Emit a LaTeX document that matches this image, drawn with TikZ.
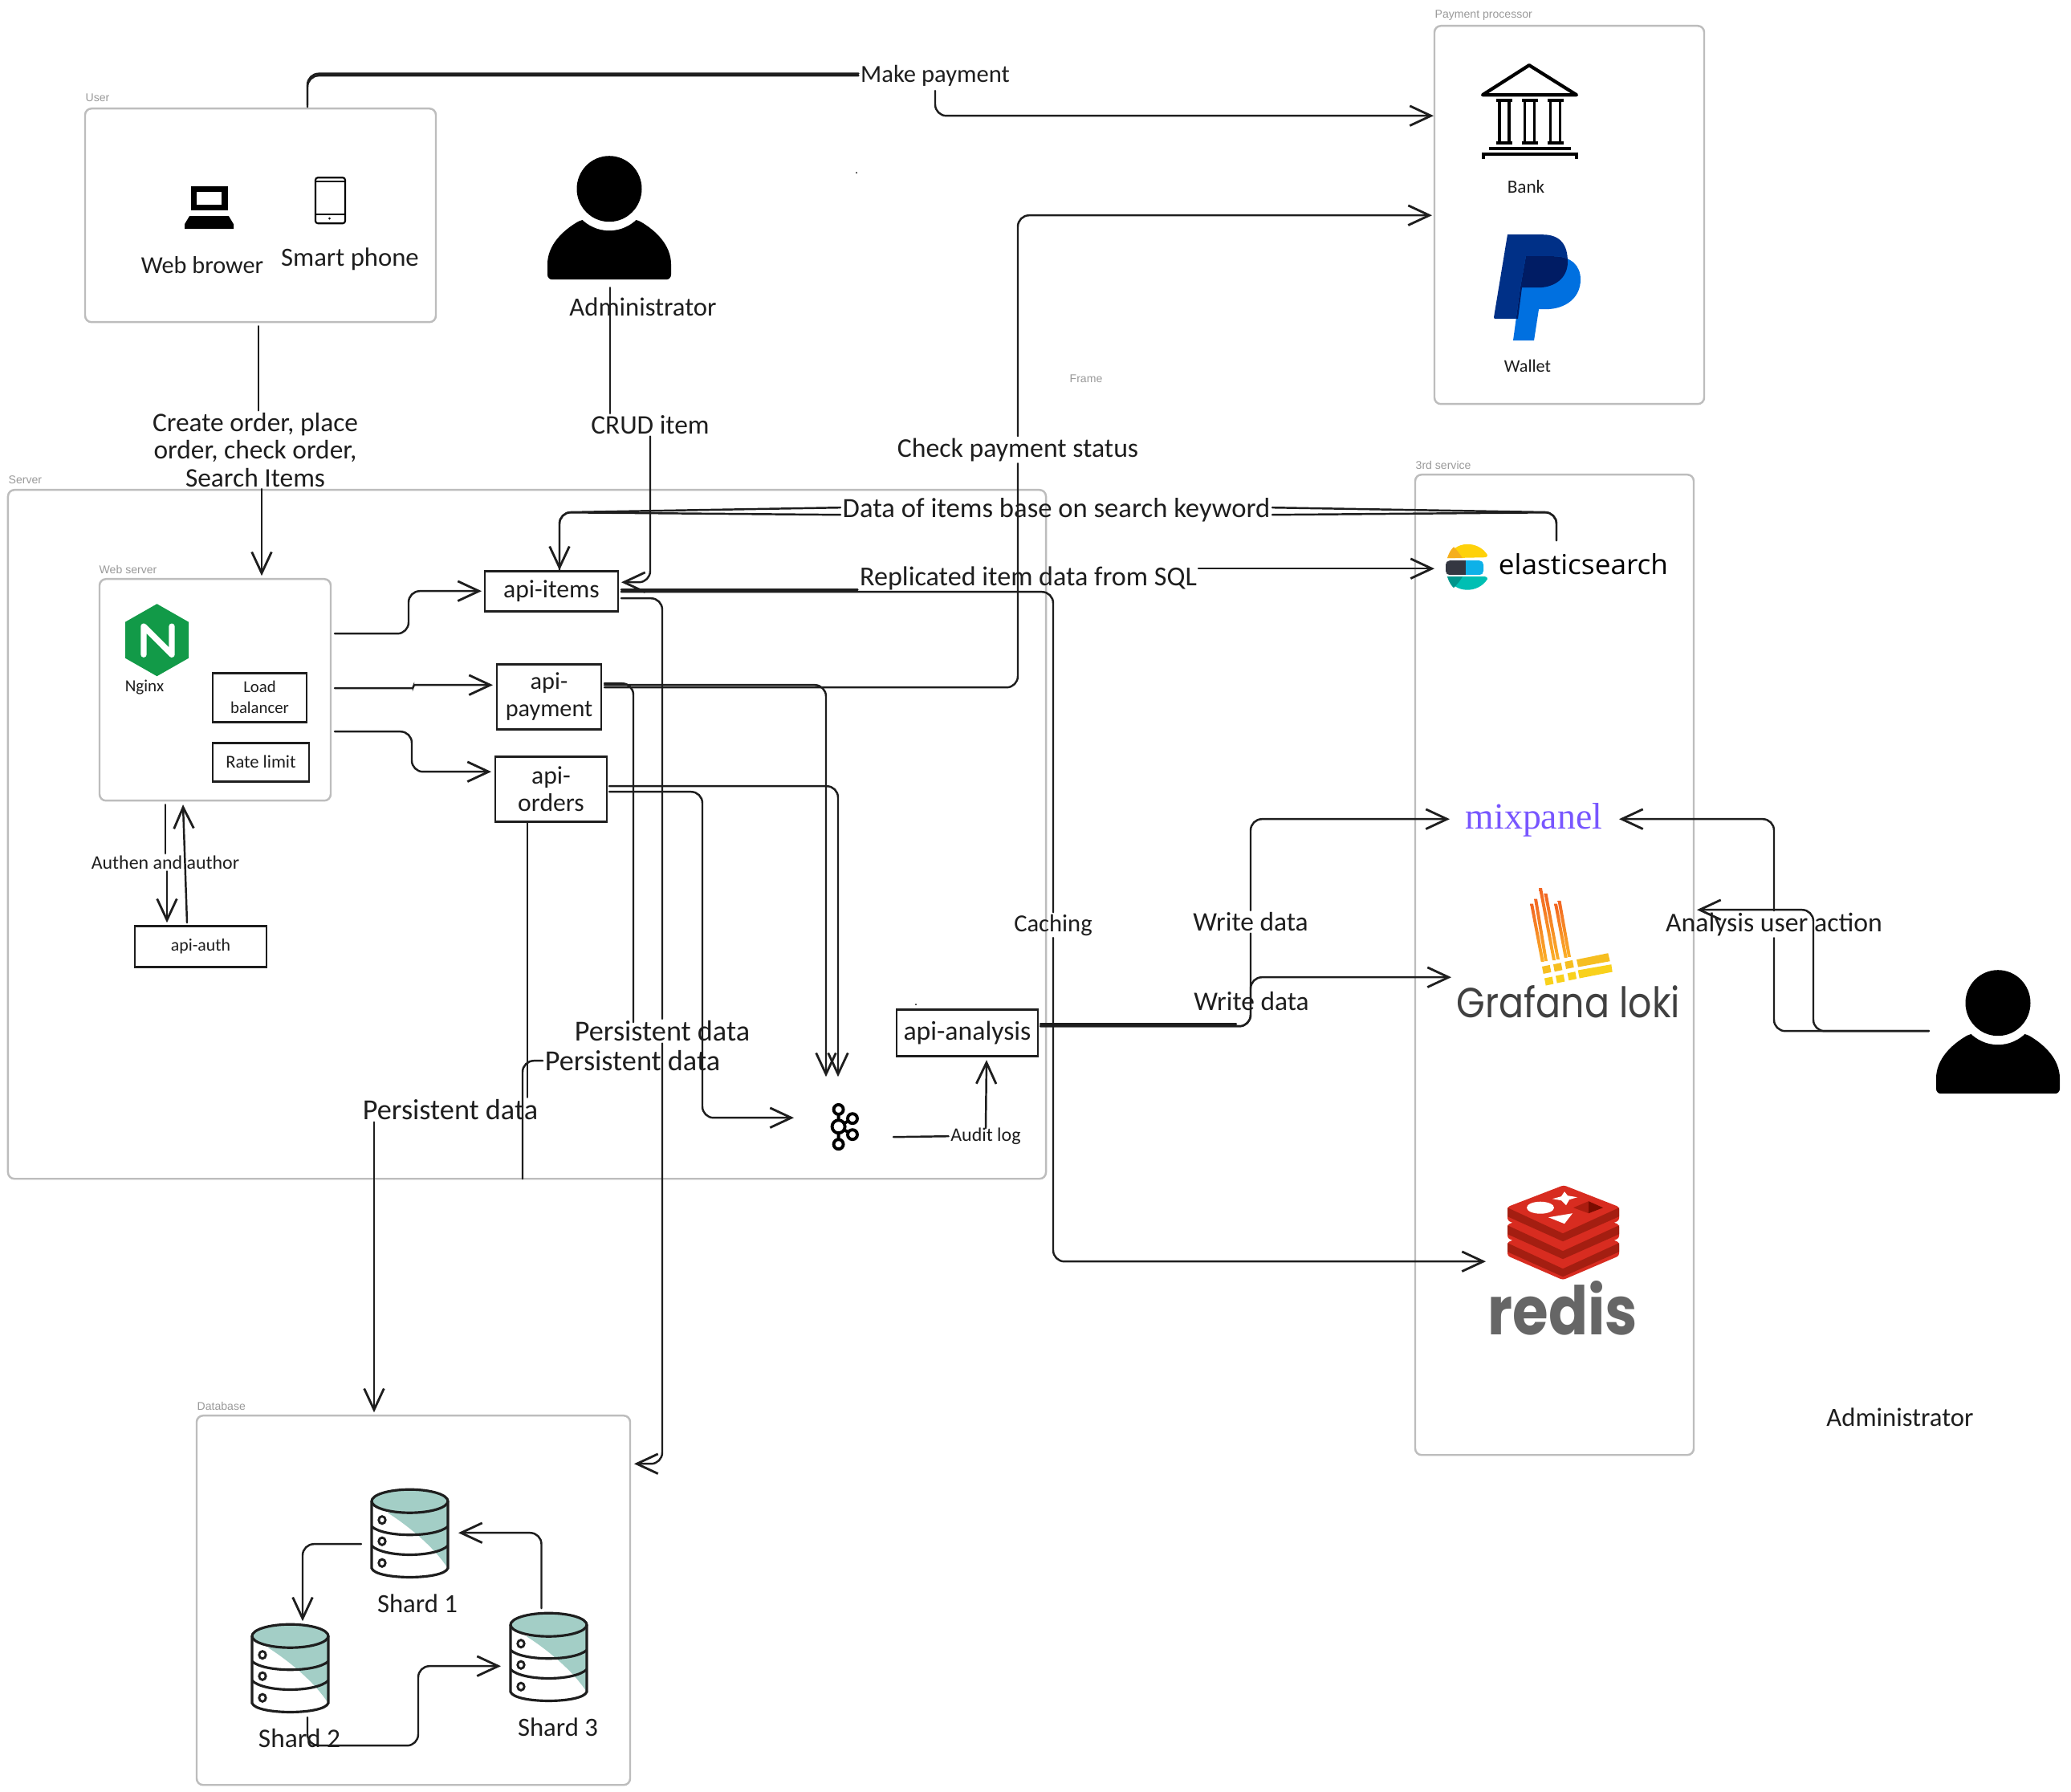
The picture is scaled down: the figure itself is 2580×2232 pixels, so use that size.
\documentclass[tikz,border=0pt]{standalone}
\usepackage{fontspec}
\usepackage{graphicx}
\setmainfont{Carlito}
\newfontfamily\libsans{Liberation Sans}
\newfontfamily\libserif{Liberation Serif}
\newfontfamily\popp{Poppins}
\newfontfamily\opens{Open Sans}
\usetikzlibrary{arrows.meta,calc}
\definecolor{ink}{HTML}{1E1E1E}
\definecolor{framegray}{HTML}{BDBDBD}
\definecolor{labelgray}{HTML}{9A9A9A}
\definecolor{shardteal}{HTML}{A3CEC6}
\definecolor{ppdark}{RGB}{0,48,135}
\definecolor{pplight}{RGB}{0,112,224}
\definecolor{ppover}{RGB}{0,28,100}
\definecolor{nginxgreen}{RGB}{18,154,72}
\definecolor{esyellow}{RGB}{254,209,10}
\definecolor{esorange}{RGB}{245,175,30}
\definecolor{esdark}{RGB}{52,55,65}
\definecolor{esblue}{RGB}{13,177,232}
\definecolor{esteal}{RGB}{0,191,179}
\definecolor{esteald}{RGB}{0,150,140}
\definecolor{mixpurple}{RGB}{120,86,255}
\definecolor{lokitop}{RGB}{242,101,34}
\definecolor{lokibot}{RGB}{251,176,40}
\definecolor{lokiy}{RGB}{246,190,32}
\definecolor{lokiz}{RGB}{249,209,28}
\definecolor{lokitext}{RGB}{64,64,64}
\definecolor{redisdark}{RGB}{164,30,17}
\definecolor{redislight}{RGB}{216,44,32}
\definecolor{redismid}{RGB}{171,29,16}
\definecolor{redisdeep}{RGB}{122,12,0}
\definecolor{redistext}{RGB}{102,102,102}
\newcommand\bx[7]{\pgfmathsetmacro\myw{(#4-#2)*0.01}\pgfmathsetmacro\myh{(#5-#3)*0.01}\node[#6,minimum width=\myw cm,minimum height=\myh cm] (#1) at ({(#2+#4)/2},{(#3+#5)/2}) {#7};}
\tikzset{
  txt/.style 2 args={font=\fontsize{#1}{#2}\selectfont,inner sep=0.02cm,align=center,text=ink},
  frame/.style={draw=framegray,line width=0.7pt,rounded corners=0.08cm,inner sep=0pt,outer sep=0pt},
  framelabel/.style={font=\libsans\fontsize{4}{5}\selectfont,text=labelgray,anchor=west,inner sep=0pt},
  abox/.style={draw=ink,line width=0.75pt,inner sep=0pt,outer sep=0pt},
  conn/.style={draw=ink,line width=0.7pt,rounded corners=0.14cm,line cap=round},
  tip/.style={-{Straight Barb[length=7.5pt,width=7pt,line width=0.8pt]}},
  twin/.style={transform canvas={yshift=0.025cm}},
  person/.pic={
    \fill[black,rounded corners=0.06cm] (-77,113) -- (-77,100) .. controls (-77,70) and (-58,52) .. (-34,38) -- (34,38) .. controls (58,52) and (77,70) .. (77,100) -- (77,113) -- cycle;
    \fill[white] (0,0) ellipse [x radius=50,y radius=52];
    \fill[black] (0,0) ellipse [x radius=40.5,y radius=41];
  },
  cyl/.pic={
    \fill[white] (0,15) -- (0,98) .. controls (5,113) and (90,113) .. (95,98) -- (95,15) -- cycle;
    \fill[shardteal] (20,29) .. controls (50,48) and (80,75) .. (94,97) -- (95,15) -- cycle;
    \fill[shardteal,draw=ink,line width=0.9pt] (47.5,14.5) ellipse [x radius=47.5,y radius=14.5];
    \draw[ink,line width=0.9pt] (0,15) -- (0,98) .. controls (5,113) and (90,113) .. (95,98) -- (95,15);
    \draw[ink,line width=0.9pt] (0,46) .. controls (15,60) and (80,60) .. (95,46);
    \draw[ink,line width=0.9pt] (0,70) .. controls (15,85) and (80,85) .. (95,70);
    \draw[ink,line width=0.8pt] (13,38) ellipse [x radius=4.2,y radius=4.6];
    \draw[ink,line width=0.8pt] (13,64.5) ellipse [x radius=4.2,y radius=4.6];
    \draw[ink,line width=0.8pt] (13,91.5) ellipse [x radius=4.2,y radius=4.6];
  },
}
\begin{document}
\begin{tikzpicture}[x=0.01cm,y=-0.01cm]
\useasboundingbox (0,0) rectangle (2580,2232);
\fill[white] (0,0) rectangle (2580,2232);
\begin{scope}[yshift=-0.012cm]

% ---------- frames
\bx{fUser}{106}{134}{543}{400}{frame}{}
\bx{fServer}{10}{609}{1303}{1467}{frame}{}
\bx{fWeb}{124}{720}{412}{996}{frame}{}
\bx{fPay}{1787}{31}{2123}{502}{frame}{}
\bx{fThird}{1763}{590}{2110}{1811}{frame}{}
\bx{fDb}{245}{1762}{785}{2222}{frame}{}
\node[framelabel] (tUser) at (106,121) {User};
\node[framelabel] (tServer) at (10,596) {Server};
\node[framelabel] (tWeb) at (123,708) {Web server};
\node[framelabel] (tPay) at (1787,18) {Payment processor};
\node[framelabel] (tFrame) at (1332,471) {Frame};
\node[framelabel] (tThird) at (1763,578) {3rd service};
\node[framelabel] (tDb) at (245,1750) {Database};

% ---------- service boxes
\bx{apiItems}{604}{710}{770}{760}{abox,txt={9}{10}}{api-items}
\bx{apiPay}{619}{826}{749}{907}{abox,txt={8.6}{9.8}}{api-\\payment}
\bx{apiOrders}{617}{941}{756}{1022}{abox,txt={9}{9.6}}{api-\\orders}
\bx{loadB}{265}{837}{382}{898}{abox,txt={5.9}{7.4}}{Load\\balancer}
\bx{rateL}{265}{924}{385}{972}{abox,txt={6.4}{7}}{Rate limit}
\bx{apiAuth}{168}{1152}{332}{1203}{abox,txt={6.2}{7}}{api-auth}
\bx{apiAna}{1117}{1256}{1293}{1314}{abox,txt={9.6}{10}}{api-analysis}

% ---------- icons
% laptop
\fill[black] (238,231) rectangle (284,261);
\fill[white] (245,238) rectangle (276,254);
\fill[black] (236,268) -- (285,268) -- (291,278) -- (291,284) -- (230,284) -- (230,278) -- cycle;
% phone
\draw[black,line width=0.6pt,rounded corners=0.03cm] (393,220) rectangle (430,277);
\draw[black,line width=0.5pt] (393,225) -- (430,225) (393,266) -- (430,266);
\fill[black] (410.5,271) circle (1.5);
% persons
\pic at (759,234) {person};
\pic at (2489,1248) {person};
% bank
\draw[black,line width=1.2pt,line join=round] (1905,80) -- (1964,117) -- (1847,117) -- cycle;
\begin{scope}[black,line width=0.95pt]
  \foreach \cx in {1874,1905.5,1937.5}{
    \draw (\cx-6,125) -- (\cx-6,176) (\cx+6,125) -- (\cx+6,176);
    \draw[line width=1.2pt] (\cx-10,124) -- (\cx+10,124) (\cx-10,177) -- (\cx+10,177);
  }
  \draw[line width=1.3pt] (1855,184) -- (1957,184);
  \draw[line width=1.1pt] (1848,197) -- (1848,191) -- (1964,191) -- (1964,197);
\end{scope}
% paypal
\def\ppDark{(1878,291) -- (1922,291) .. controls (1945,291) and (1953,305) .. (1953,325) .. controls (1953,345) and (1937,357) .. (1916,357) -- (1896,357) -- (1891,396) -- (1863,396) .. controls (1862,396) and (1861,395) .. (1861,394) -- cycle}
\def\ppLight{(1901,318) -- (1935,318) .. controls (1958,318) and (1969,330) .. (1969,347) .. controls (1969,370) and (1950,384) .. (1925,384) -- (1917,384) -- (1911,423) -- (1885,423) -- (1894,357) -- cycle}
\fill[ppdark] \ppDark;
\fill[pplight] \ppLight;
\begin{scope}
  \clip \ppDark;
  \fill[ppover] \ppLight;
\end{scope}
% nginx
\fill[nginxgreen] (195.5,751) -- (235,773.5) -- (235,818.5) -- (195.5,841) -- (156,818.5) -- (156,773.5) -- cycle;
\draw[white,line width=2.1pt,line cap=round,line join=round] (179,814) -- (179,779) -- (214,814) -- (214,779);
% elastic
\fill[esyellow] (1803,694) .. controls (1812,671) and (1842,672) .. (1853,690) .. controls (1853,692) and (1852,693) .. (1850,693) -- cycle;
\fill[esorange] (1803,694) .. controls (1805,687) and (1808,683) .. (1811,680) .. controls (1815,684) and (1819,689) .. (1822,694) -- cycle;
\fill[esblue,rounded corners=0.05cm] (1818,697) rectangle (1848,715);
\fill[esdark,rounded corners=0.05cm] (1801,697) rectangle (1816,715);
\fill[esdark] (1810,697) rectangle (1826,715);
\fill[esteal] (1803,717) -- (1850,717) .. controls (1852,717) and (1853,718) .. (1853,720) .. controls (1842,738) and (1812,739) .. (1803,717) -- cycle;
\fill[esteald] (1803,717) .. controls (1805,724) and (1808,728) .. (1811,731) .. controls (1815,727) and (1819,722) .. (1822,717) -- cycle;
\node[inner sep=0pt,text=black] (nElastic) at (1972.5,701) {\resizebox{2.11cm}{0.26cm}{\opens elasticsearch}};
% mixpanel
\node[inner sep=0pt,anchor=base,text=mixpurple] (nMix) at (1911,1031) {\resizebox{1.70cm}{0.32cm}{\libserif mixpanel}};
% loki
\foreach \a/\b/\c/\d in {1908/1124.3/1921.7/1196.7,1913/1118.3/1926/1196,1919/1105/1936/1195,1925.5/1111.7/1941/1194,1938/1124.3/1950.7/1191.7,1942.5/1120.7/1955/1190.7}{
  \shade[top color=lokitop,bottom color=lokibot] (\a-2,\b) -- (\a+2,\b) -- (\c+2,\d) -- (\c-2,\d) -- cycle;
}
\fill[lokiy] (1964,1194) -- (2003.3,1186) -- (2005.7,1196) -- (1966,1203.3) -- cycle;
\fill[lokiz] (1965.7,1207.3) -- (2007.3,1200) -- (2008.7,1209.3) -- (1967.7,1217.3) -- cycle;
\foreach \sx/\sy in {1921/1202.7,1935/1200,1949.3/1196.7}{
  \fill[lokiy] (\sx,\sy) -- (\sx+9.7,\sy-2) -- (\sx+11.4,\sy+7) -- (\sx+1.7,\sy+9) -- cycle;
}
\foreach \sx/\sy in {1924/1217.3,1938/1214.3,1952.7/1211}{
  \fill[lokiz] (\sx,\sy) -- (\sx+9.7,\sy-2) -- (\sx+11.4,\sy+7) -- (\sx+1.7,\sy+9) -- cycle;
}
\node[inner sep=0pt,text=lokitext] (nLoki) at (1954,1246.5) {\resizebox{2.78cm}{0.40cm}{\popp Grafana loki}};
% redis
\foreach \o in {44,22,0}{
  \fill[redislight,rounded corners=0.03cm] (1878,1502+\o) -- (1948,1475+\o) -- (2017,1502+\o) -- (2017,1519+\o) -- (1947,1549+\o) -- (1878,1519+\o) -- cycle;
  \fill[redisdark] (1878,1503+\o) -- (1947,1535+\o) -- (2017,1503+\o) -- (2017,1514+\o) -- (1947,1545+\o) -- (1878,1514+\o) -- cycle;
}
\fill[white] (1919,1503) ellipse [x radius=17,y radius=7.5];
\fill[white] (1949,1483) -- (1953,1488) -- (1965,1490) -- (1955,1493) -- (1951,1500) -- (1945,1494) -- (1934,1492) -- (1945,1489) -- cycle;
\fill[white] (1929,1515) -- (1959,1510) -- (1949,1523) -- cycle;
\fill[redismid] (1960,1503) -- (1979,1495) -- (1979,1510) -- cycle;
\fill[redisdeep] (1979,1495) -- (1997,1503) -- (1979,1510) -- cycle;
\node[inner sep=0pt,text=redistext] (nRedis) at (1947,1628.5) {\resizebox{1.86cm}{0.67cm}{\popp\bfseries redis}};
% kafka
\begin{scope}[black,line width=1.1pt]
  \draw (1044.6,1380.7) -- (1044.6,1424) (1044.6,1402) -- (1062,1392) (1044.6,1402) -- (1062,1412);
  \filldraw[fill=white] (1044.6,1380.7) circle (6) (1044.6,1424) circle (6) (1062,1392) circle (6) (1062,1412) circle (6) (1044.6,1402) circle (8);
\end{scope}
\fill[black] (1067,214) circle (1) (1141,1250) circle (1);
% shards
\pic at (463,1854) {cyl};
\pic at (314,2022) {cyl};
\pic at (636,2008) {cyl};

% ---------- texts
\node[txt={8.6}{10}] (tWebB) at (252,329) {Web brower};
\node[txt={9.3}{10}] (tSmart) at (436,322) {Smart phone};
\node[txt={9.3}{10}] (tAdmin1) at (801,381) {Administrator};
\node[txt={9.3}{10}] (tAdmin2) at (2367,1764) {Administrator};
\node[txt={6.6}{8}] (tBank) at (1901,231) {Bank};
\node[txt={6.3}{8}] (tWallet) at (1903,455) {Wallet};
\node[txt={6}{8}] (tNginx) at (180,855) {Nginx};
\node[txt={9.3}{10}] (tS1) at (520,1996) {Shard 1};
\node[txt={9.5}{10}] (tS2) at (373,2164) {Shard 2};
\node[txt={9.3}{10}] (tS3) at (695,2150) {Shard 3};

% ---------- connector labels
\node[txt={8.7}{10}] (lMake) at (1165,93) {Make payment};
\node[txt={9.6}{10}] (lCheck) at (1268,559) {Check payment status};
\node[txt={9.5}{9.8}] (lCreate) at (318,559) {Create order, place\\order, check order,\\Search Items};
\node[txt={9.5}{10}] (lCrud) at (810,528) {CRUD item};
\node[txt={9.85}{11}] (lData) at (1316,634) {Data of items base on search keyword};
\node[txt={9.7}{10}] (lRepl) at (1281,719) {Replicated item data from SQL};
\node[txt={8.7}{10}] (lCache) at (1312,1151) {Caching};
\node[txt={10.3}{11}] (lP1) at (825,1283) {Persistent data};
\node[txt={10.3}{11}] (lP2) at (788,1320) {Persistent data};
\node[txt={10.3}{11}] (lP3) at (561,1381) {Persistent data};
\node[txt={6.8}{8}] (lAuth) at (206,1073) {Authen and author};
\node[txt={6.8}{8}] (lAudit) at (1228,1414) {Audit log};
\node[txt={9.5}{10}] (lW1) at (1558,1147) {Write data};
\node[txt={9.5}{10}] (lW2) at (1559,1246) {Write data};
\node[txt={9.6}{11}] (lAna) at (2210,1150) {Analysis user action};

% ---------- connector ends
\coordinate (cUserTop) at (383,132);
\coordinate (cBank) at (1786,143);
\coordinate (cMakeOut) at (1165,112);
\coordinate (cWallet) at (1784,267);
\coordinate (cPayOut) at (753,855);
\coordinate (cUserBot) at (322,405);
\coordinate (cWebTop) at (326,716);
\coordinate (cAdminOut) at (760,357);
\coordinate (cItemsR) at (774,724);
\coordinate (cEsTop) at (1939,672);
\coordinate (cEsCorner) at (1939,637);
\coordinate (cItCorner) at (697,637);
\coordinate (cItemsTop) at (697,709);
\coordinate (cItemsOut) at (774,736);
\coordinate (cEsIn) at (1787,707);
\coordinate (cReplOut) at (1493,707);
\coordinate (cRedis) at (1851,1570);
\coordinate (cItemsDb) at (774,744);
\coordinate (cDbR) at (790,1822);
\coordinate (cPayDb) at (753,850);
\coordinate (cP2Top) at (789,1272);
\coordinate (cServerBot) at (651,1467);
\coordinate (cOrdersBot) at (657,1022);
\coordinate (cDbTop) at (466,1758);
\coordinate (cPayKafka) at (753,852);
\coordinate (cK1) at (1029,1340);
\coordinate (cOrdKafka) at (759,978);
\coordinate (cK2) at (1044,1340);
\coordinate (cOrdKafka2) at (759,985);
\coordinate (cK3) at (989,1391);
\coordinate (cWeb1) at (417,788);
\coordinate (cIt) at (600,735);
\coordinate (cWeb2) at (417,856);
\coordinate (cPa) at (614,852);
\coordinate (cWeb3) at (417,910);
\coordinate (cOr) at (612,960);
\coordinate (cWebB1) at (206,1001);
\coordinate (cAuthT1) at (208,1148);
\coordinate (cAuthT2) at (233,1148);
\coordinate (cWebB2) at (228,1001);
\coordinate (cKafkaR) at (1113,1415);
\coordinate (cAuditUp) at (1228,1404);
\coordinate (cAnaB) at (1229,1319);
\coordinate (cAnaR) at (1296,1277);
\coordinate (cAnaThick) at (1540,1277);
\coordinate (cMix) at (1806,1019);
\coordinate (cLoki) at (1808,1216);
\coordinate (cUser) at (2403,1283);
\coordinate (cMixR) at (2017,1019);
\coordinate (cLokiR) at (2114,1132);
\coordinate (cS1L) at (450,1922);
\coordinate (cS2T) at (377,2018);
\coordinate (cS3T) at (674.5,2002);
\coordinate (cS1R) at (571,1908);
\coordinate (cS2B) at (383,2138);
\coordinate (cS3L) at (624,2074);

% ---------- connectors
\draw[conn] (cUserTop) |- (lMake.west);
\draw[conn,twin] (cUserTop) |- (lMake.west);
\draw[conn,tip] (cMakeOut) |- (cBank);
\draw[conn] (cPayOut) -| (lCheck.south);
\draw[conn,tip] (lCheck.north) |- (cWallet);
\draw[conn] (cUserBot) -- (cUserBot |- lCreate.north);
\draw[conn,tip] (cWebTop |- lCreate.south) -- (cWebTop);
\draw[conn] (cAdminOut) -- (cAdminOut |- lCrud.north);
\draw[conn,tip] (lCrud.south) |- (cItemsR);
\draw[conn] (cEsTop) -- (cEsCorner) -- ($(lData.east)+(0,-3)$);
\draw[conn] (cEsTop) -- (cEsCorner) -- ($(lData.east)+(0,6)$);
\draw[conn,tip] ($(lData.west)+(0,-3)$) -- (cItCorner) -- (cItemsTop);
\draw[conn] ($(lData.west)+(0,6)$) -- (cItCorner) -- (cItemsTop);
\draw[conn] (cItemsOut) -- (lRepl.west |- cItemsOut);
\draw[conn,twin] (cItemsOut) -- (lRepl.west |- cItemsOut);
\draw[conn,tip] (cReplOut) -- (cEsIn);
\draw[conn] (cItemsOut) -| (lCache.north);
\draw[conn,tip] (lCache.south) |- (cRedis);
\draw[conn] (cItemsDb) -| (lP1.north);
\draw[conn,tip] (lP1.south) |- (cDbR);
\draw[conn] (cPayDb) -| (cP2Top);
\draw[conn] (lP2.west) -| (cServerBot);
\draw[conn] (cOrdersBot) -- (cOrdersBot |- lP3.north);
\draw[conn,tip] (cDbTop |- lP3.south) -- (cDbTop);
\draw[conn,tip] (cPayKafka) -| (cK1);
\draw[conn,tip] (cOrdKafka) -| (cK2);
\draw[conn,tip] (cOrdKafka2) -- (875,985) -- (875,1391) -- (cK3);
\draw[conn,tip] (cWeb1) -- (509,788) -- (509,735) -- (cIt);
\draw[conn,tip,rounded corners=0.02cm] (cWeb2) -- (515,856) -- (515,852) -- (cPa);
\draw[conn,tip] (cWeb3) -- (513,910) -- (513,960) -- (cOr);
\draw[conn] (cWebB1) -- (cWebB1 |- lAuth.north);
\draw[conn,tip] (cAuthT1 |- lAuth.south) -- (cAuthT1);
\draw[conn,tip] (cAuthT2) -- (cWebB2);
\draw[conn] (cKafkaR) -- (lAudit.west);
\draw[conn,tip] (cAuditUp) -- (cAnaB);
\draw[conn] (cAnaR) -| (lW1.south);
\draw[conn,twin] (cAnaR) -- (cAnaThick);
\draw[conn,tip] (lW1.north) |- (cMix);
\draw[conn,tip] (cAnaR) -- (cAnaR -| lW1.south) -- (lW1.south |- cLoki) -- (cLoki);
\draw[conn,tip] (lAna.north) |- (cMixR);
\draw[conn] (cUser) -| (lAna.south);
\draw[conn,tip] (cUser) -- (2259,1283) -- (2259,1132) -- (cLokiR);
\draw[conn,tip] (cS1L) -| (cS2T);
\draw[conn,tip] (cS3T) |- (cS1R);
\draw[conn,tip] (cS2B) |- (521,2173) -- (521,2074) -- (cS3L);
\end{scope}
\end{tikzpicture}
\end{document}
